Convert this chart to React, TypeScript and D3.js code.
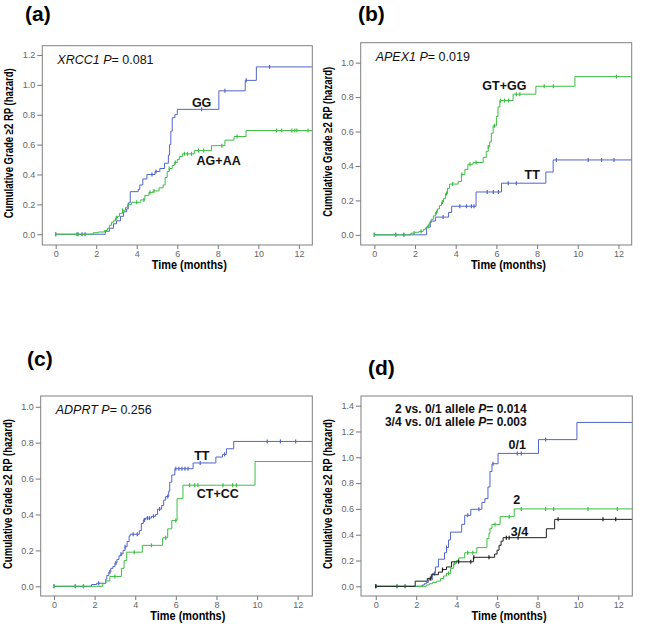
import React, { useEffect, useRef } from "react";
import * as d3 from "d3";

const xTicks = [0, 2, 4, 6, 8, 10, 12];
const yTicksA = [0, 0.2, 0.4, 0.6, 0.8, 1.0, 1.2];
const yTicksB = [0, 0.2, 0.4, 0.6, 0.8, 1.0];
const yTicksC = [0, 0.2, 0.4, 0.6, 0.8, 1.0];
const yTicksD = [0, 0.2, 0.4, 0.6, 0.8, 1.0, 1.2, 1.4];

// (a) XRCC1
const aGGTimes = [0, 2.45, 2.65, 2.85, 3.0, 3.2, 3.35, 3.5, 3.58, 3.68, 4.07, 4.15, 4.3, 4.5, 4.9, 5.14, 5.37, 5.56, 5.62, 5.68, 5.75, 5.88, 6.0, 8.05, 9.35, 9.9];
const aGGValues = [0, 0.02, 0.04, 0.07, 0.09, 0.12, 0.15, 0.17, 0.21, 0.285, 0.3, 0.33, 0.37, 0.4, 0.42, 0.44, 0.475, 0.53, 0.6, 0.69, 0.78, 0.8, 0.836, 0.96, 1.03, 1.12];
const aGGCensored = [0, 1.1, 1.3, 1.45, 4.75, 4.95, 7.2, 8.35, 9.4, 10.55];
const aAGTimes = [0, 1.85, 2.1, 2.4, 2.55, 2.65, 2.75, 2.85, 2.95, 3.05, 3.15, 3.3, 3.45, 3.55, 3.75, 4.2, 4.4, 4.6, 4.8, 5.1, 5.3, 5.4, 5.5, 5.6, 5.75, 5.85, 6.0, 6.1, 6.25, 6.84, 7.69, 8.35, 8.8, 9.39];
const aAGValues = [0, 0.01, 0.015, 0.025, 0.04, 0.06, 0.08, 0.09, 0.11, 0.12, 0.14, 0.16, 0.18, 0.2, 0.214, 0.23, 0.26, 0.28, 0.29, 0.31, 0.33, 0.38, 0.42, 0.44, 0.46, 0.48, 0.5, 0.52, 0.538, 0.56, 0.593, 0.63, 0.654, 0.694];
const aAGCensored = [0, 1.05, 3.0, 3.3, 4.0, 4.35, 4.65, 4.85, 5.6, 5.9, 6.35, 6.5, 6.7, 7.05, 7.3, 8.2, 8.95, 10.9, 11.15, 11.65, 11.8, 11.9, 12.45];

// (b) APEX1
const bTTTimes = [0, 2.57, 2.75, 3.0, 3.65, 3.8, 5.0, 6.25, 8.43, 8.79];
const bTTValues = [0, 0.045, 0.08, 0.103, 0.13, 0.166, 0.249, 0.3, 0.365, 0.435];
const bTTCensored = [0, 1.05, 1.45, 3.38, 4.2, 4.53, 4.77, 4.9, 5.55, 5.85, 6.1, 6.58, 6.98, 8.95, 10.51, 11.17, 11.78];
const bGTTimes = [0, 1.8, 2.0, 2.2, 2.4, 2.5, 2.6, 2.7, 2.8, 2.9, 3.0, 3.1, 3.2, 3.3, 3.4, 3.5, 3.6, 3.7, 4.12, 4.28, 4.45, 4.6, 4.85, 5.35, 5.5, 5.6, 5.67, 5.75, 5.84, 6.0, 6.08, 6.17, 6.82, 7.94, 9.86];
const bGTValues = [0, 0.01, 0.015, 0.02, 0.03, 0.04, 0.05, 0.07, 0.09, 0.11, 0.13, 0.15, 0.17, 0.19, 0.21, 0.24, 0.27, 0.295, 0.31, 0.35, 0.38, 0.41, 0.42, 0.45, 0.485, 0.51, 0.54, 0.59, 0.633, 0.688, 0.743, 0.78, 0.817, 0.863, 0.919];
const bGTCensored = [0, 1.05, 1.45, 1.95, 2.3, 2.65, 3.05, 3.35, 3.55, 3.85, 4.3, 4.7, 5.0, 5.6, 5.9, 6.2, 6.4, 6.6, 6.98, 7.15, 8.35, 8.8, 11.9];

// (c) ADPRT
const cTTTimes = [0, 1.85, 2.1, 2.55, 2.6, 2.7, 2.8, 2.9, 3.0, 3.1, 3.2, 3.3, 3.4, 3.5, 3.6, 3.7, 3.75, 4.2, 4.3, 4.4, 4.5, 4.8, 5.0, 5.1, 5.3, 5.4, 5.5, 5.65, 5.7, 5.8, 5.95, 6.85, 7.97, 8.3, 8.49, 8.85];
const cTTValues = [0, 0.01, 0.017, 0.04, 0.06, 0.08, 0.1, 0.11, 0.13, 0.15, 0.17, 0.18, 0.2, 0.22, 0.25, 0.28, 0.29, 0.31, 0.35, 0.37, 0.38, 0.39, 0.4, 0.43, 0.45, 0.48, 0.5, 0.53, 0.58, 0.62, 0.655, 0.687, 0.72, 0.735, 0.766, 0.807];
const cTTCensored = [0, 1.05, 1.45, 2.2, 2.75, 3.05, 3.3, 3.5, 3.9, 4.1, 4.45, 4.6, 4.7, 4.9, 5.2, 5.6, 6.0, 6.15, 6.3, 6.45, 6.6, 7.2, 8.4, 10.5, 11.15, 11.9];
const cCTTimes = [0, 2.4, 2.55, 2.75, 3.32, 3.45, 3.58, 4.35, 5.35, 5.6, 5.8, 6.06, 6.35, 9.9];
const cCTValues = [0, 0.015, 0.03, 0.055, 0.1, 0.143, 0.19, 0.228, 0.27, 0.32, 0.367, 0.488, 0.563, 0.695];
const cCTCensored = [0, 1.05, 1.45, 3.0, 3.95, 4.8, 5.5, 6.0, 6.68, 6.93, 7.09, 8.32, 8.8, 8.98];

// (d) number of risk alleles
const d01Times = [0, 2.3, 2.4, 2.5, 2.6, 2.8, 2.95, 3.1, 3.4, 3.5, 3.6, 3.7, 4.25, 4.4, 4.7, 5.25, 5.4, 5.55, 5.65, 5.75, 6.05, 8.05, 9.95];
const d01Values = [0, 0.01, 0.02, 0.03, 0.05, 0.1, 0.15, 0.21, 0.26, 0.3, 0.36, 0.42, 0.48, 0.55, 0.597, 0.65, 0.68, 0.77, 0.89, 0.95, 1.03, 1.137, 1.27];
const d01Censored = [0, 1.05, 1.45, 2.9, 3.5, 4.55, 5.1, 5.8, 7.0, 7.2, 8.4];
const d2Times = [0, 2.5, 2.65, 2.8, 3.0, 3.2, 3.35, 3.5, 3.7, 3.85, 4.0, 4.1, 4.4, 5.0, 5.5, 5.6, 5.65, 5.75, 6.15, 6.85];
const d2Values = [0, 0.01, 0.02, 0.03, 0.04, 0.06, 0.08, 0.1, 0.14, 0.178, 0.2, 0.22, 0.26, 0.3, 0.37, 0.41, 0.45, 0.48, 0.54, 0.6];
const d2Censored = [0, 1.05, 1.45, 3.6, 3.9, 4.55, 4.8, 5.9, 6.6, 7.2, 8.4, 8.8, 10.5, 11.95];
const d34Times = [0, 1.95, 2.55, 2.75, 3.1, 3.3, 3.5, 3.75, 4.83, 5.88, 6.0, 6.1, 6.2, 6.3, 8.44, 8.85];
const d34Values = [0, 0.04, 0.06, 0.09, 0.11, 0.13, 0.15, 0.19, 0.225, 0.25, 0.28, 0.318, 0.35, 0.377, 0.446, 0.519];
const d34Censored = [0, 2.7, 3.3, 4.1, 4.7, 4.85, 5.6, 6.46, 6.6, 7.04, 9.02, 11.24, 11.87];

const BLUE = "#5266c8";
const GREEN = "#3ebd45";
const BLACK = "#1e1e1e";

const panels = [
  {
    tag: "(a)", tagX: 25, tagY: 21,
    frame: { left: 42.3, top: 45.7, right: 312.3, bottom: 245 },
    xDomain: [-0.66, 12.66], yDomain: [-0.072, 1.262], yTicks: yTicksA,
    series: [
      { times: aGGTimes, values: aGGValues, censored: aGGCensored, color: BLUE },
      { times: aAGTimes, values: aAGValues, censored: aAGCensored, color: GREEN },
    ],
    labels: [{ text: "GG", t: 7.2, v: 0.88 }, { text: "AG+AA", t: 8.04, v: 0.49 }],
    stat: [{ italic: "XRCC1 P", rest: "= 0.081" }],
  },
  {
    tag: "(b)", tagX: 358, tagY: 21,
    frame: { left: 360.7, top: 42.7, right: 631.7, bottom: 245 },
    xDomain: [-0.67, 12.65], yDomain: [-0.059, 1.116], yTicks: yTicksB,
    series: [
      { times: bTTTimes, values: bTTValues, censored: bTTCensored, color: BLUE },
      { times: bGTTimes, values: bGTValues, censored: bGTCensored, color: GREEN },
    ],
    labels: [{ text: "GT+GG", t: 6.39, v: 0.865 }, { text: "TT", t: 7.76, v: 0.352 }],
    stat: [{ italic: "APEX1 P", rest: "= 0.019" }],
  },
  {
    tag: "(c)", tagX: 27, tagY: 366,
    frame: { left: 40.7, top: 396, right: 312.3, bottom: 596 },
    xDomain: [-0.655, 12.72], yDomain: [-0.054, 1.06], yTicks: yTicksC,
    series: [
      { times: cTTTimes, values: cTTValues, censored: cTTCensored, color: BLUE },
      { times: cCTTimes, values: cCTValues, censored: cCTCensored, color: GREEN },
    ],
    labels: [{ text: "TT", t: 7.28, v: 0.727 }, { text: "CT+CC", t: 8.07, v: 0.518 }],
    stat: [{ italic: "ADPRT P", rest: "= 0.256" }],
  },
  {
    tag: "(d)", tagX: 368, tagY: 375,
    frame: { left: 361, top: 396, right: 632.3, bottom: 596 },
    xDomain: [-0.73, 12.69], yDomain: [-0.075, 1.475], yTicks: yTicksD,
    series: [
      { times: d01Times, values: d01Values, censored: d01Censored, color: BLUE },
      { times: d2Times, values: d2Values, censored: d2Censored, color: GREEN },
      { times: d34Times, values: d34Values, censored: d34Censored, color: BLACK },
    ],
    labels: [{ text: "0/1", t: 7.0, v: 1.095 }, { text: "2", t: 6.97, v: 0.669 }, { text: "3/4", t: 7.11, v: 0.426 }],
    stat: [],
  },
];

const FONT = "'Liberation Sans', Arial, sans-serif";

export default function App() {
  const ref = useRef<SVGSVGElement>(null);

  useEffect(() => {
    const svg = d3.select(ref.current);
    svg.selectAll("*").remove();

    panels.forEach((p) => {
      const f = p.frame;
      const g = svg.append("g");
      const x = d3.scaleLinear().domain(p.xDomain).range([f.left, f.right]);
      const y = d3.scaleLinear().domain(p.yDomain).range([f.bottom, f.top]);

      // panel tag
      g.append("text").attr("x", p.tagX).attr("y", p.tagY).attr("font-family", FONT)
        .attr("font-weight", "bold").attr("font-size", 21).text(p.tag);

      // axes
      const ya = g.append("g").attr("transform", `translate(${f.left},0)`)
        .call(d3.axisLeft(y).tickValues(p.yTicks).tickSize(5).tickPadding(2).tickFormat(d3.format(".1f")));
      const xa = g.append("g").attr("transform", `translate(0,${f.bottom})`)
        .call(d3.axisBottom(x).tickValues(xTicks).tickSize(4).tickPadding(2));
      [ya, xa].forEach((a) => {
        a.select(".domain").remove();
        a.selectAll("line").attr("stroke", "#777");
        a.selectAll("text").attr("fill", "#666").attr("font-size", 9).attr("font-family", FONT);
      });

      // curves
      p.series.forEach((s) => {
        const pts: [number, number][] = s.times.map((t, i) => [t, s.values[i]]);
        pts.push([p.xDomain[1], s.values[s.values.length - 1]]);
        const line = d3.line<[number, number]>().x((d) => x(d[0])).y((d) => y(d[1])).curve(d3.curveStepAfter);
        g.append("path").attr("d", line(pts)).attr("fill", "none").attr("stroke", s.color).attr("stroke-width", 1);
        const stepAt = (t: number) => s.values[Math.max(0, d3.bisectRight(s.times, t) - 1)];
        g.selectAll(null).data(s.censored).join("line")
          .attr("x1", (t) => x(t)).attr("x2", (t) => x(t))
          .attr("y1", (t) => y(stepAt(t)) - 2).attr("y2", (t) => y(stepAt(t)) + 2)
          .attr("stroke", s.color).attr("stroke-width", 1.2);
      });

      // frame
      g.append("rect").attr("x", f.left).attr("y", f.top).attr("width", f.right - f.left)
        .attr("height", f.bottom - f.top).attr("fill", "none").attr("stroke", "#808080").attr("stroke-width", 1);

      // curve labels
      g.selectAll(null).data(p.labels).join("text")
        .attr("x", (d) => x(d.t)).attr("y", (d) => y(d.v)).attr("dy", "0.35em")
        .attr("text-anchor", "middle").attr("font-family", FONT).attr("font-weight", "bold")
        .attr("font-size", 12.5).attr("fill", "#111").text((d) => d.text);

      // statistic text
      p.stat.forEach((st) => {
        const t = g.append("text").attr("x", f.left + 15).attr("y", f.top + 18)
          .attr("font-family", FONT).attr("font-size", 12.5).attr("fill", "#111");
        t.append("tspan").attr("font-style", "italic").text(st.italic);
        t.append("tspan").text(st.rest);
      });

      // axis titles
      const cy = (f.top + f.bottom) / 2;
      g.append("text").attr("transform", `translate(${f.left - 29},${cy - 2}) rotate(-90)`)
        .attr("text-anchor", "middle").attr("font-family", FONT).attr("font-weight", "bold")
        .attr("font-size", 12).attr("textLength", 150).attr("lengthAdjust", "spacingAndGlyphs")
        .text("Cumulative Grade \u22652 RP (hazard)");
      g.append("text").attr("x", x(6) + 12).attr("y", f.bottom + 24).attr("text-anchor", "middle")
        .attr("font-family", FONT).attr("font-weight", "bold").attr("font-size", 12)
        .attr("textLength", 75).attr("lengthAdjust", "spacingAndGlyphs").text("Time (months)");
    });

    // panel (d) statistics, right aligned pair
    const d = panels[3].frame;
    const lines = [
      { pre: "2 vs. 0/1 allele ", it: "P", post: "= 0.014" },
      { pre: "3/4 vs. 0/1 allele ", it: "P", post: "= 0.003" },
    ];
    lines.forEach((l, i) => {
      const t = svg.append("text").attr("x", 526.7).attr("y", d.top + 17 + i * 12.5)
        .attr("text-anchor", "end").attr("font-family", FONT).attr("font-weight", "bold")
        .attr("font-size", 12).attr("fill", "#111");
      t.append("tspan").text(l.pre);
      t.append("tspan").attr("font-style", "italic").text(l.it);
      t.append("tspan").text(l.post);
    });
  }, []);

  return (
    <svg ref={ref} width={645} height={628}
      style={{ position: "absolute", left: 0, top: 0, background: "#fff" }} />
  );
}
